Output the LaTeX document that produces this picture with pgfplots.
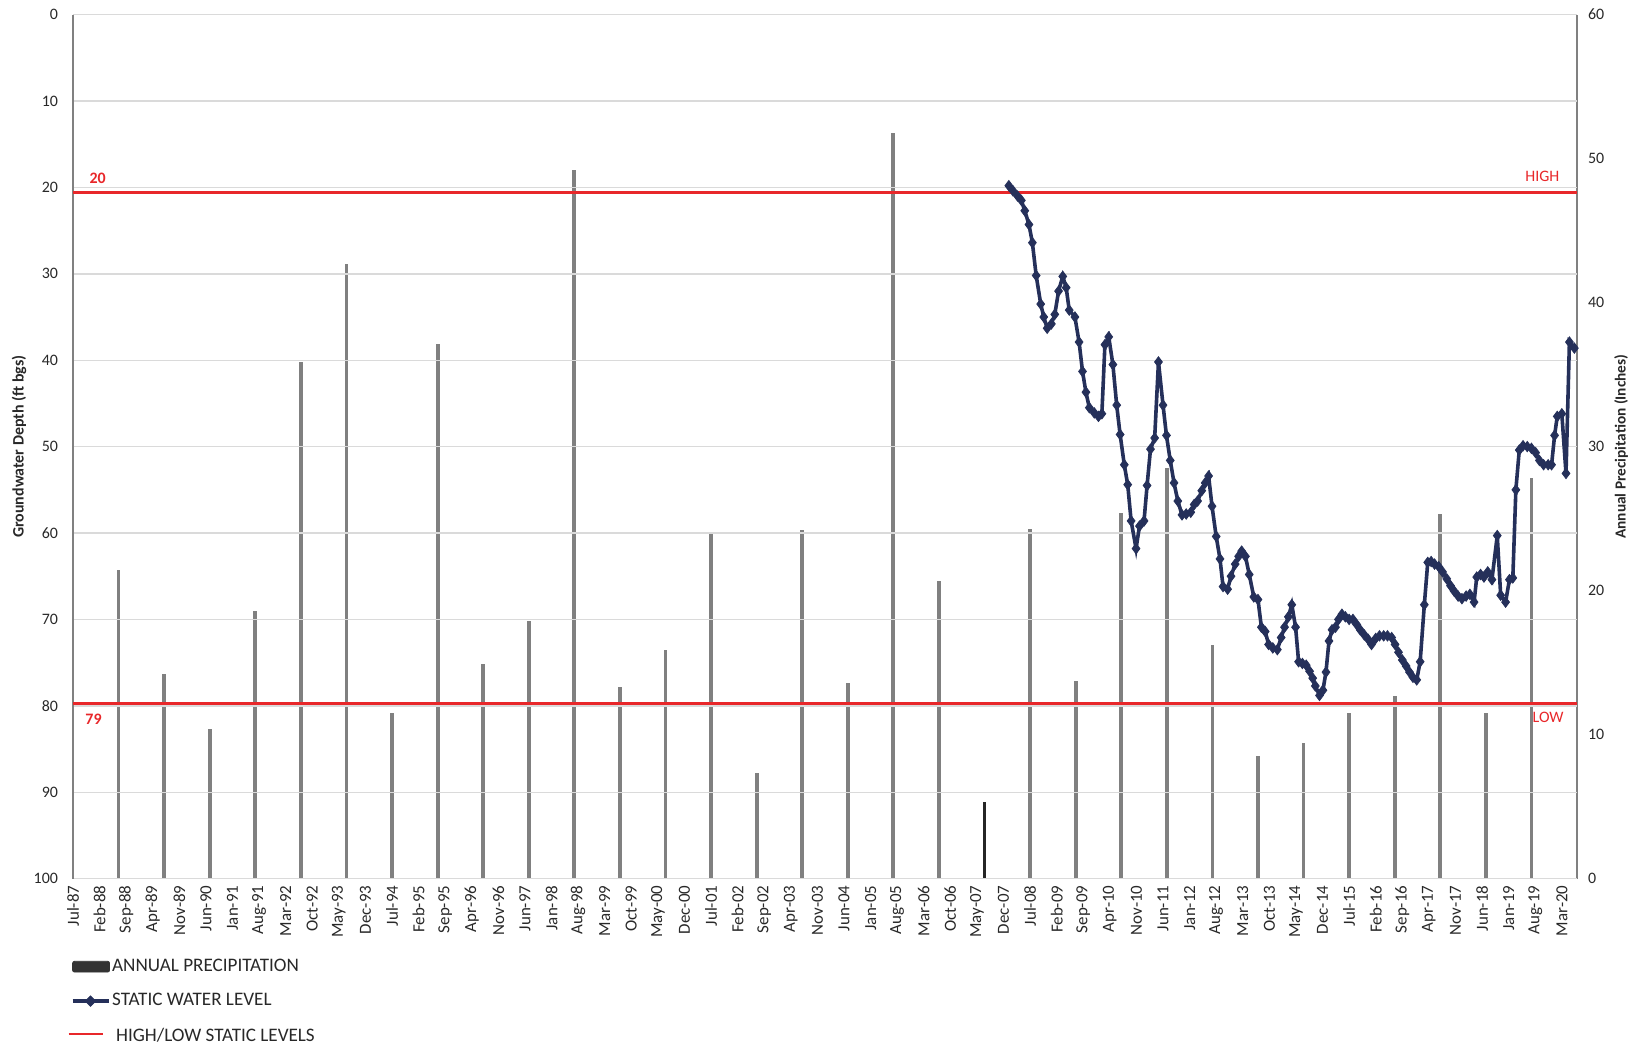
\documentclass[border=0pt]{standalone}
\usepackage{pgfplots}
\pgfplotsset{compat=1.18}
\usepackage{fontspec}
\setmainfont{Carlito}
\definecolor{navy}{RGB}{37,48,90}
\definecolor{hlred}{RGB}{232,39,42}
\definecolor{bargray}{RGB}{128,128,128}
\definecolor{gridgray}{RGB}{218,218,218}
\definecolor{txt}{RGB}{40,40,40}

\begin{document}
\begin{tikzpicture}
\path[use as bounding box] (-36.5bp,-83.2bp) rectangle (785.5bp,439.3bp);

% ---------- precipitation (right axis) ----------
\begin{axis}[
  at={(0,0)}, anchor=south west,
  scale only axis, width=752bp, height=432bp,
  xmin=0, xmax=396, ymin=0, ymax=60,
  /pgf/number format/assume math mode=true,
  axis x line=none,
  axis y line*=right,
  y axis line style={draw=bargray, line width=1bp},
  ytick={0,10,...,60},
  major tick length=0pt,
  yticklabel style={font=\fontsize{8}{9}\selectfont, text=txt, anchor=west, xshift=2bp},
  ylabel={\textbf{Annual Precipitation (Inches)}},
  ylabel style={font=\fontsize{7.7}{9}\selectfont, text=txt, at={(rel axis cs:1,0.5)}, anchor=center, rotate=0, yshift=-22bp},
  clip=false,
  legend style={at={(0,0)}, anchor=north west, xshift=-6bp, yshift=-37bp, draw=none, fill=none,
    font=\fontsize{9.6}{10}\selectfont, text=txt, row sep=7.5bp,
    nodes={inner sep=1bp}},
  legend cell align=left,
]
\addplot[ycomb, draw=bargray, line width=1.9bp, forget plot] coordinates {
(12,21.4) (24,14.2) (36,10.4) (48,18.6) (60,35.9) (72,42.7) (84,11.5) (96,37.1)
(108,14.9) (120,17.9) (132,49.2) (144,13.3) (156,15.9) (168,23.9) (180,7.3) (192,24.2)
(204,13.6) (216,51.8) (228,20.7) (252,24.3) (264,13.7) (276,25.4) (288,28.5)
(300,16.2) (312,8.5) (324,9.4) (336,11.5) (348,12.7) (360,25.3) (372,11.5) (384,27.8)
};
\addplot[ycomb, draw=black!85, line width=1.9bp, forget plot] coordinates {(240,5.3)};

\addlegendimage{legend image code/.code={\fill[black!80, rounded corners=1bp] (0bp,-2.7bp) rectangle (18.5bp,2.7bp);}}
\addlegendentry{ANNUAL PRECIPITATION}
\addlegendimage{legend image code/.code={\draw[navy, line width=1.6bp] (0bp,0bp) -- (18bp,0bp);
   \fill[navy] (9bp,2.6bp) -- (11.6bp,0bp) -- (9bp,-2.6bp) -- (6.4bp,0bp) -- cycle;}}
\addlegendentry{STATIC WATER LEVEL}
\addlegendimage{legend image code/.code={\draw[hlred, line width=1.2bp] (-2bp,1bp) -- (15bp,1bp);}}
\addlegendentry{\hspace{2bp}HIGH/LOW STATIC LEVELS}
\end{axis}

% ---------- groundwater depth (left axis, reversed) ----------
\begin{axis}[
  at={(0,0)}, anchor=south west,
  scale only axis, width=752bp, height=432bp,
  xmin=0, xmax=396, ymin=0, ymax=100, y dir=reverse,
  /pgf/number format/assume math mode=true,
  axis y line*=left,
  axis x line*=bottom,
  y axis line style={draw=bargray, line width=1bp},
  x axis line style={draw=gridgray, line width=0.7bp},
  ytick={0,10,...,100},
  ymajorgrids, major grid style={draw=gridgray, line width=0.7bp},
  major tick length=0pt,
  yticklabel style={font=\fontsize{8}{9}\selectfont, text=txt, anchor=east, xshift=-4bp},
  xtick={0,7,...,392},
  xticklabels={Jul-87,Feb-88,Sep-88,Apr-89,Nov-89,Jun-90,Jan-91,Aug-91,Mar-92,Oct-92,May-93,Dec-93,Jul-94,Feb-95,Sep-95,Apr-96,Nov-96,Jun-97,Jan-98,Aug-98,Mar-99,Oct-99,May-00,Dec-00,Jul-01,Feb-02,Sep-02,Apr-03,Nov-03,Jun-04,Jan-05,Aug-05,Mar-06,Oct-06,May-07,Dec-07,Jul-08,Feb-09,Sep-09,Apr-10,Nov-10,Jun-11,Jan-12,Aug-12,Mar-13,Oct-13,May-14,Dec-14,Jul-15,Feb-16,Sep-16,Apr-17,Nov-17,Jun-18,Jan-19,Aug-19,Mar-20},
  xticklabel style={font=\fontsize{8.5}{9}\selectfont, text=txt, rotate=90, anchor=east},
  ylabel={\textbf{Groundwater Depth (ft bgs)}},
  ylabel style={font=\fontsize{8}{9}\selectfont, text=txt, at={(rel axis cs:0,0.5)}, anchor=center, yshift=27bp},
  clip=false,
]
\addplot[hlred, line width=1.3bp] coordinates {(0,20.6) (396,20.6)};
\addplot[hlred, line width=1.3bp] coordinates {(0,79.7) (396,79.7)};

\addplot[navy, line width=1.8bp, mark=diamond*, mark size=2.6bp,
  mark options={fill=navy, draw=navy, line width=0.4bp}] coordinates {
(246.4,19.8) (247.5,20.4) (248.7,21.0) (249.7,21.5) (250.6,22.7) (251.7,24.3) (252.6,26.4)
(253.6,30.2) (254.8,33.5) (255.6,35.0) (256.5,36.3) (257.6,35.8) (258.5,34.7) (259.5,32.0)
(260.6,30.3) (261.5,31.6) (262.3,34.2) (263.8,35.0) (264.9,37.9) (265.8,41.3) (266.7,43.7)
(267.6,45.5) (268.9,46.1) (270.0,46.5) (270.9,46.2) (271.7,38.2) (272.7,37.3) (273.8,40.5)
(274.8,45.2) (275.7,48.6) (276.8,52.1) (277.7,54.4) (278.6,58.6) (279.9,61.8) (280.8,59.2)
(282.0,58.6) (282.8,54.5) (283.7,50.3) (284.8,49.0) (285.8,40.2) (287.0,45.2) (287.9,48.7)
(288.9,51.6) (289.9,54.2) (290.9,56.3) (292.0,57.9) (293.1,57.8) (294.3,57.6) (295.2,56.7)
(296.1,56.3) (297.2,55.1) (298.1,54.2) (299.0,53.4) (299.9,56.9) (301.0,60.4) (302.0,63.0)
(302.8,66.2) (304.0,66.5) (304.9,65.0) (306.0,63.6) (306.9,62.7) (307.7,62.1) (308.7,62.7)
(309.7,64.8) (310.9,67.4) (312.0,67.7) (312.9,70.9) (313.9,71.4) (314.8,72.9) (315.9,73.3)
(317.1,73.5) (318.1,72.1) (319.0,70.9) (320.0,69.7) (320.9,68.3) (321.9,70.9) (322.7,74.9)
(323.7,75.1) (324.7,75.3) (325.6,76.0) (326.4,76.8) (327.1,77.7) (328.2,78.8) (329.1,78.2)
(329.9,76.1) (330.7,72.5) (331.5,71.2) (332.4,70.9) (333.2,70.0) (334.1,69.4) (335.0,69.7)
(336.0,70.0) (337.0,70.0) (338.0,70.6) (338.9,71.2) (340.0,71.8) (341.0,72.3) (341.9,72.9)
(343.0,72.2) (344.0,71.9) (345.1,71.9) (346.1,71.9) (347.2,72.1) (348.1,72.9) (349.0,73.8)
(350.0,74.7) (351.0,75.4) (351.9,76.1) (352.8,76.7) (353.8,77.0) (354.7,74.9) (355.8,68.3)
(356.7,63.4) (357.6,63.3) (358.5,63.6) (359.6,63.9) (360.6,64.5) (361.7,65.3) (362.7,66.1)
(363.6,66.7) (364.7,67.3) (365.7,67.6) (366.8,67.3) (367.8,67.1) (368.9,68.0) (369.6,65.1)
(370.6,64.8) (371.5,65.1) (372.5,64.5) (373.6,65.4) (375.0,60.3) (375.9,67.2) (377.2,68.0)
(378.2,65.4) (379.1,65.2) (379.9,55.0) (380.8,50.4) (381.8,49.9) (382.9,50.0) (384.0,50.2)
(385.1,50.7) (386.1,51.6) (387.2,52.1) (388.4,52.1) (389.3,52.1) (390.1,48.7) (390.8,46.5)
(392.0,46.2) (393.1,53.1) (394.0,37.9) (395.3,38.6)
};

\node[text=hlred, font=\bfseries\fontsize{8}{9}\selectfont] at (axis cs:6.5,18.9) {20};
\node[text=hlred, font=\bfseries\fontsize{8}{9}\selectfont] at (axis cs:5.4,81.6) {79};
\node[text=hlred, font=\fontsize{8}{9}\selectfont] at (axis cs:386.9,18.7) {HIGH};
\node[text=hlred, font=\fontsize{8}{9}\selectfont] at (axis cs:388.4,81.3) {LOW};
\end{axis}
\end{tikzpicture}
\end{document}
